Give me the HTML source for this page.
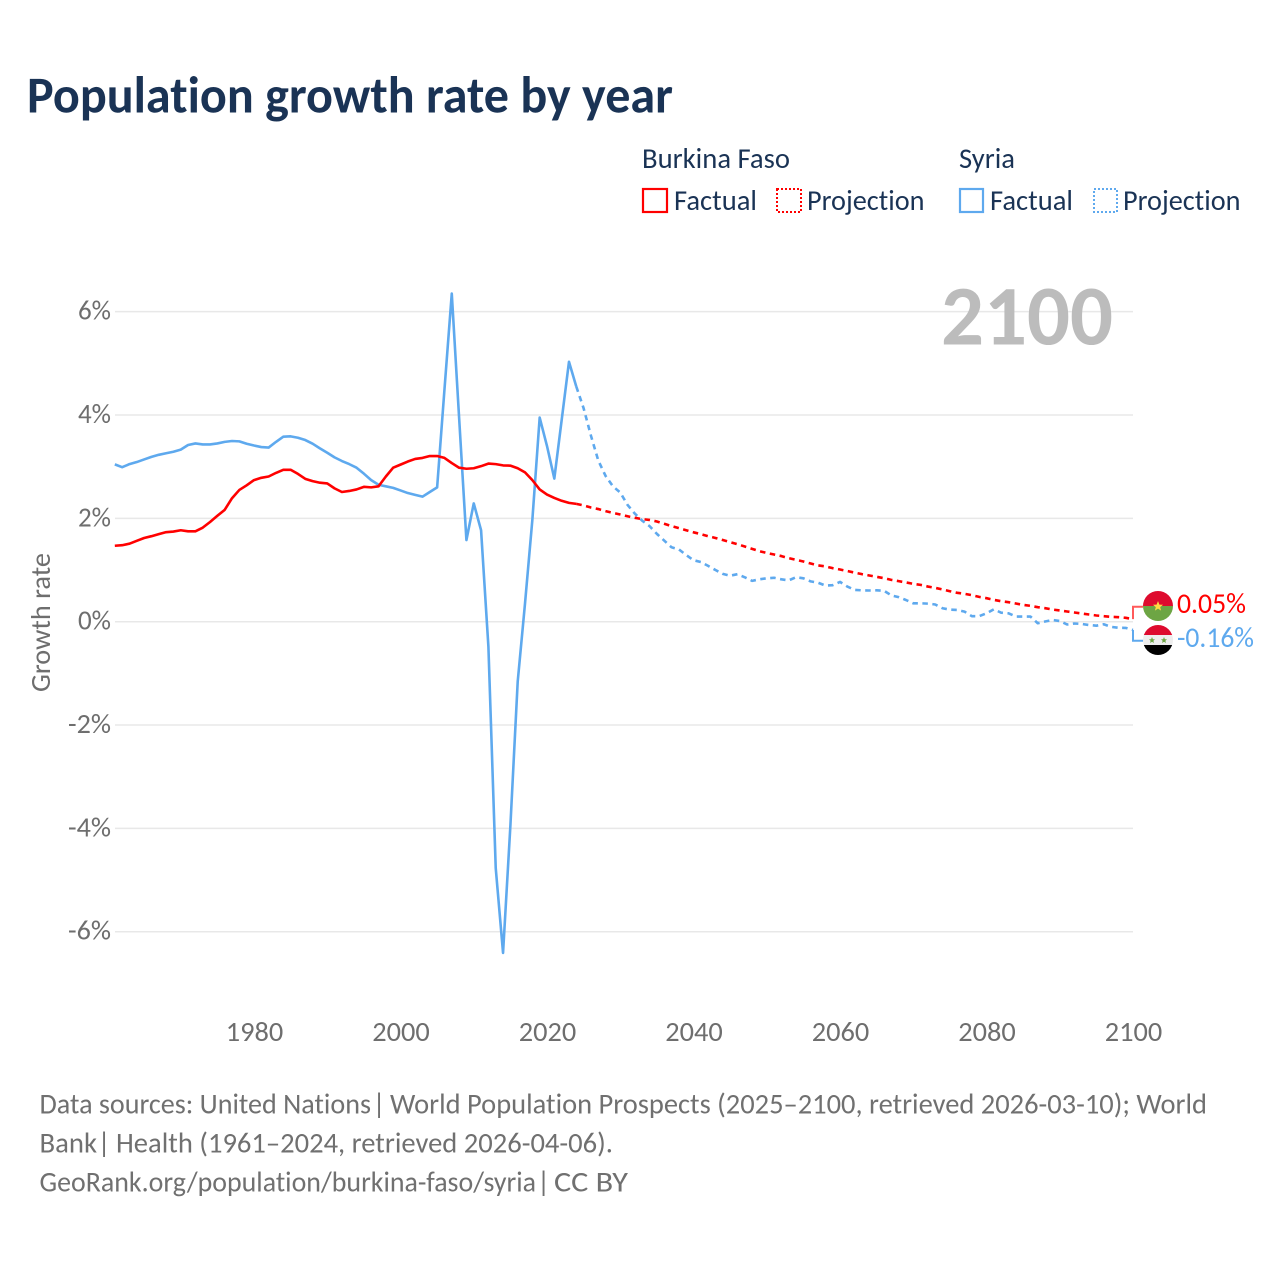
<!DOCTYPE html>
<html lang="en">
<head>
<meta charset="utf-8">
<title>Population growth rate by year</title>
<style>
html,body{margin:0;padding:0;background:#fff;}
svg{display:block;font-family:"Carlito","Lato","Liberation Sans",sans-serif;font-variant-ligatures:none;}
</style>
</head>
<body>
<svg id="chart" xmlns="http://www.w3.org/2000/svg" width="1280" height="1280" viewBox="0 0 1280 1280">
  <rect width="1280" height="1280" fill="#ffffff"/>
  <text x="27" y="112.5" font-size="52" font-weight="700" fill="#1a3355" textLength="646" lengthAdjust="spacingAndGlyphs">Population growth rate by year</text>

  <g font-size="28.5" fill="#1a3355">
    <text x="642" y="168" textLength="148" lengthAdjust="spacingAndGlyphs">Burkina Faso</text>
    <rect x="643" y="189" width="24" height="23" fill="none" stroke="#ff0000" stroke-width="2.2"/>
    <text x="674" y="210" textLength="83" lengthAdjust="spacingAndGlyphs">Factual</text>
    <rect x="777" y="189" width="24" height="23" fill="none" stroke="#ff0000" stroke-width="2" stroke-dasharray="2 2"/>
    <text x="807" y="210" textLength="117.5" lengthAdjust="spacingAndGlyphs">Projection</text>
    <text x="959" y="168" textLength="56" lengthAdjust="spacingAndGlyphs">Syria</text>
    <rect x="960" y="189" width="23" height="23" fill="none" stroke="#5ea9ee" stroke-width="2.2"/>
    <text x="990" y="210" textLength="83" lengthAdjust="spacingAndGlyphs">Factual</text>
    <rect x="1094" y="189" width="23" height="23" fill="none" stroke="#5ea9ee" stroke-width="2" stroke-dasharray="2 2"/>
    <text x="1123" y="210" textLength="117.5" lengthAdjust="spacingAndGlyphs">Projection</text>
  </g>

  <g id="grid"></g>
  <g id="y-ticks"></g>
  <g id="x-ticks"></g>

  <text transform="translate(50 692) rotate(-90)" font-size="27.5" fill="#6e6e6e" textLength="139" lengthAdjust="spacingAndGlyphs">Growth rate</text>

  <text x="941" y="344.5" font-size="85" font-weight="700" fill="#bcbcbc" textLength="172" lengthAdjust="spacingAndGlyphs">2100</text>

  <g id="series"></g>

  <defs>
    <clipPath id="clip-bf"><circle cx="1158" cy="606" r="15"/></clipPath>
    <clipPath id="clip-sy"><circle cx="1158" cy="640" r="15"/></clipPath>
  </defs>
  <g clip-path="url(#clip-bf)">
    <rect x="1143" y="591" width="30" height="15" fill="#de0b2e"/>
    <rect x="1143" y="606" width="30" height="15" fill="#6da544"/>
    <polygon points="1158,601 1159.4,604.6 1163,604.8 1160.2,607.1 1161.1,610.6 1158,608.6 1154.9,610.6 1155.8,607.1 1153,604.8 1156.6,604.6" fill="#ffda44"/>
  </g>
  <g clip-path="url(#clip-sy)">
    <rect x="1143" y="625" width="30" height="10" fill="#de0b2e"/>
    <rect x="1143" y="635" width="30" height="10" fill="#eeeeee"/>
    <rect x="1143" y="645" width="30" height="10" fill="#000000"/>
    <polygon points="1152,637 1152.9,639.2 1155,639.3 1153.4,640.7 1153.9,643 1152,641.7 1150.1,643 1150.6,640.7 1149,639.3 1151.1,639.2" fill="#6da544"/>
    <polygon points="1164,637 1164.9,639.2 1167,639.3 1165.4,640.7 1165.9,643 1164,641.7 1162.1,643 1162.6,640.7 1161,639.3 1163.1,639.2" fill="#6da544"/>
  </g>
  <g id="end-labels"></g>

  <g font-size="28.5" fill="#707070">
    <text x="39.5" y="1113.5" textLength="331.5" lengthAdjust="spacingAndGlyphs">Data sources: United Nations</text>
    <text x="372.5" y="1113.5">|</text>
    <text x="390" y="1113.5" textLength="817" lengthAdjust="spacingAndGlyphs">World Population Prospects (2025–2100, retrieved 2026-03-10); World</text>
    <text x="39.5" y="1152.5" textLength="57.5" lengthAdjust="spacingAndGlyphs">Bank</text>
    <text x="97.5" y="1152.5">|</text>
    <text x="116" y="1152.5" textLength="497" lengthAdjust="spacingAndGlyphs">Health (1961–2024, retrieved 2026-04-06).</text>
    <text x="39.5" y="1191.5" textLength="496.5" lengthAdjust="spacingAndGlyphs">GeoRank.org/population/burkina-faso/syria</text>
    <text x="537" y="1191.5">|</text>
    <text x="554" y="1191.5" textLength="74" lengthAdjust="spacingAndGlyphs">CC BY</text>
  </g>
</svg>

<script>
const factualYears = [1961,1962,1963,1964,1965,1966,1967,1968,1969,1970,1971,1972,1973,1974,1975,1976,1977,1978,1979,1980,1981,1982,1983,1984,1985,1986,1987,1988,1989,1990,1991,1992,1993,1994,1995,1996,1997,1998,1999,2000,2001,2002,2003,2004,2005,2006,2007,2008,2009,2010,2011,2012,2013,2014,2015,2016,2017,2018,2019,2020,2021,2022,2023,2024];
const projectionYears = [2024,2025,2026,2027,2028,2029,2030,2031,2032,2033,2034,2035,2036,2037,2038,2039,2040,2041,2042,2043,2044,2045,2046,2047,2048,2049,2050,2051,2052,2053,2054,2055,2056,2057,2058,2059,2060,2061,2062,2063,2064,2065,2066,2067,2068,2069,2070,2071,2072,2073,2074,2075,2076,2077,2078,2079,2080,2081,2082,2083,2084,2085,2086,2087,2088,2089,2090,2091,2092,2093,2094,2095,2096,2097,2098,2099,2100];
const burkinaFactual = [1.47,1.48,1.51,1.565,1.62,1.655,1.695,1.733,1.745,1.77,1.75,1.75,1.82,1.93,2.05,2.165,2.39,2.55,2.64,2.74,2.785,2.81,2.88,2.94,2.94,2.86,2.765,2.72,2.69,2.675,2.58,2.51,2.53,2.56,2.61,2.60,2.62,2.81,2.98,3.04,3.10,3.15,3.17,3.206,3.206,3.17,3.07,2.98,2.96,2.97,3.01,3.06,3.05,3.025,3.02,2.97,2.89,2.74,2.56,2.46,2.395,2.34,2.30,2.28];
const burkinaProjection = [2.28,2.25,2.21,2.18,2.14,2.105,2.075,2.04,2.01,1.985,1.97,1.94,1.895,1.85,1.81,1.77,1.73,1.695,1.655,1.62,1.58,1.54,1.50,1.455,1.41,1.365,1.33,1.30,1.27,1.23,1.197,1.165,1.126,1.09,1.07,1.036,1.01,0.98,0.95,0.92,0.894,0.868,0.843,0.81,0.785,0.76,0.733,0.713,0.68,0.655,0.623,0.59,0.559,0.54,0.513,0.48,0.455,0.423,0.397,0.378,0.352,0.326,0.307,0.281,0.262,0.236,0.217,0.197,0.178,0.159,0.139,0.12,0.107,0.094,0.088,0.075,0.05];
const syriaFactual = [3.045,2.99,3.05,3.09,3.14,3.19,3.23,3.26,3.29,3.33,3.42,3.45,3.43,3.43,3.45,3.48,3.497,3.49,3.445,3.41,3.38,3.37,3.48,3.58,3.587,3.56,3.516,3.445,3.355,3.27,3.18,3.11,3.05,2.98,2.865,2.74,2.65,2.62,2.59,2.54,2.49,2.455,2.42,2.51,2.60,4.49,6.35,3.95,1.58,2.29,1.77,-0.48,-4.77,-6.41,-3.95,-1.16,0.355,1.97,3.95,3.40,2.77,3.9,5.03,4.55];
const syriaProjection = [4.55,4.13,3.60,3.12,2.82,2.62,2.50,2.26,2.09,1.955,1.85,1.70,1.57,1.44,1.40,1.29,1.19,1.155,1.08,1.00,0.926,0.89,0.92,0.86,0.79,0.82,0.84,0.85,0.82,0.80,0.86,0.84,0.78,0.755,0.70,0.707,0.77,0.68,0.616,0.607,0.604,0.607,0.60,0.51,0.475,0.42,0.356,0.356,0.35,0.333,0.26,0.233,0.227,0.195,0.107,0.107,0.162,0.24,0.175,0.162,0.10,0.10,0.10,-0.03,0.004,0.033,0.014,-0.054,-0.035,-0.044,-0.064,-0.077,-0.05,-0.10,-0.118,-0.12,-0.16];
const xTickYears = [1980,2000,2020,2040,2060,2080,2100];
const yTickValues = [6,4,2,0,-2,-4,-6];

const NS = 'http://www.w3.org/2000/svg';
const RED = '#ff0000';
const BLUE = '#5ea9ee';

function xScale(year) { return 1133 - (2100 - year) * 7.325; }
function yScale(value) { return 621.7 - value * 51.67; }

function make(tag, attrs, parent) {
  const el = document.createElementNS(NS, tag);
  for (const key in attrs) el.setAttribute(key, attrs[key]);
  parent.appendChild(el);
  return el;
}

const gridGroup = document.getElementById('grid');
const yTickGroup = document.getElementById('y-ticks');
const xTickGroup = document.getElementById('x-ticks');
const seriesGroup = document.getElementById('series');
const labelGroup = document.getElementById('end-labels');

yTickValues.forEach(function (value) {
  const line = make('line', { x1: 115, x2: 1133, y1: yScale(value), y2: yScale(value), stroke: '#e8e8e8', 'stroke-width': 1.5 }, gridGroup);
  
  
  const label = make('text', { x: 111, y: yScale(value) + 8, 'text-anchor': 'end', 'font-size': 27.5, fill: '#6e6e6e', textLength: value < 0 ? 43 : 33, lengthAdjust: 'spacingAndGlyphs' }, yTickGroup);
  
  
  label.textContent = value + '%';
});

xTickYears.forEach(function (year) {
  const label = make('text', { x: xScale(year) + 0.5, y: 1041, 'text-anchor': 'middle', 'font-size': 27.5, fill: '#6e6e6e', textLength: 57.5, lengthAdjust: 'spacingAndGlyphs' }, xTickGroup);
  
  
  label.textContent = String(year);
});

function pathFrom(years, values) {
  return years.map(function (year, i) {
    return (i ? 'L' : 'M') + xScale(year).toFixed(2) + ' ' + yScale(values[i]).toFixed(2);
  }).join(' ');
}

function drawLine(years, values, color, dashed, parent) {
  const attrs = { d: pathFrom(years, values), fill: 'none', stroke: color, 'stroke-width': 2.6, 'stroke-linejoin': 'round' };
  if (dashed) attrs['stroke-dasharray'] = '5.5 4.5';
  return make('path', attrs, parent);
}

const syriaFactualLine = drawLine(factualYears, syriaFactual, BLUE, false, seriesGroup);


const syriaProjectionLine = drawLine(projectionYears, syriaProjection, BLUE, true, seriesGroup);


const burkinaFactualLine = drawLine(factualYears, burkinaFactual, RED, false, seriesGroup);


const burkinaProjectionLine = drawLine(projectionYears, burkinaProjection, RED, true, seriesGroup);



function lastOf(list) { return list[list.length - 1]; }

const burkinaConnector = make('path', { d: 'M' + xScale(2100) + ' ' + yScale(lastOf(burkinaProjection)) + ' V606.7 H1143', fill: 'none', stroke: '#ff5a5a', 'stroke-width': 2 }, seriesGroup);


const syriaConnector = make('path', { d: 'M' + xScale(2100) + ' ' + yScale(lastOf(syriaProjection)) + ' V640.7 H1143', fill: 'none', stroke: BLUE, 'stroke-width': 2 }, seriesGroup);



const burkinaEnd = make('text', { x: 1177, y: 613, 'font-size': 28.5, fill: RED, textLength: 69, lengthAdjust: 'spacingAndGlyphs' }, labelGroup);


burkinaEnd.textContent = lastOf(burkinaProjection).toFixed(2) + '%';
const syriaEnd = make('text', { x: 1177, y: 647, 'font-size': 28.5, fill: BLUE, textLength: 77, lengthAdjust: 'spacingAndGlyphs' }, labelGroup);


syriaEnd.textContent = lastOf(syriaProjection).toFixed(2) + '%';
</script>
</body>
</html>
